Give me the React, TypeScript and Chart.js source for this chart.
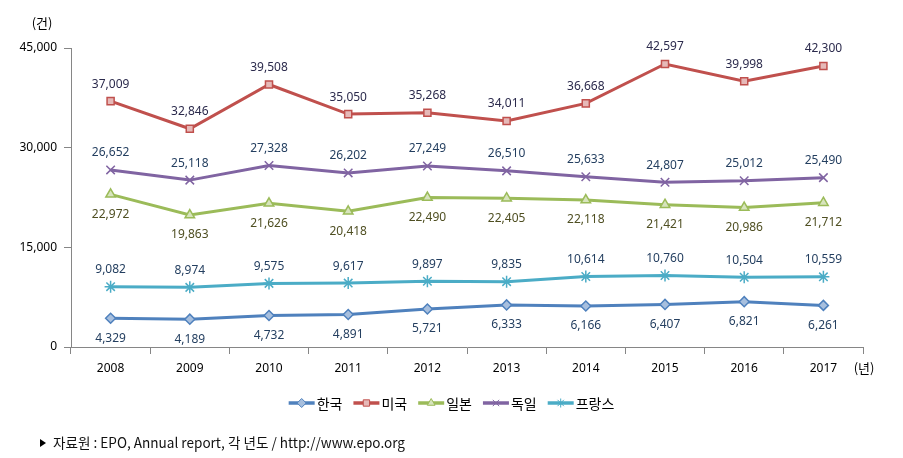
import React, { useEffect, useRef } from 'react';
import { Chart, registerables } from 'chart.js';
import { drawPoint } from 'chart.js/helpers';

Chart.register(...registerables);

const years = ['2008', '2009', '2010', '2011', '2012', '2013', '2014', '2015', '2016', '2017'];
const korea = [4329, 4189, 4732, 4891, 5721, 6333, 6166, 6407, 6821, 6261];
const usa = [37009, 32846, 39508, 35050, 35268, 34011, 36668, 42597, 39998, 42300];
const japan = [22972, 19863, 21626, 20418, 22490, 22405, 22118, 21421, 20986, 21712];
const germany = [26652, 25118, 27328, 26202, 27249, 26510, 25633, 24807, 25012, 25490];
const france = [9082, 8974, 9575, 9617, 9897, 9835, 10614, 10760, 10504, 10559];
const seriesNames = ['한국', '미국', '일본', '독일', '프랑스'];
const yTickValues = [0, 15000, 30000, 45000];
const yUnit = '(건)';
const xUnit = '(년)';
const sourceText = '자료원 : EPO, Annual report, 각 년도 / http://www.epo.org';

const LABEL_FONT = '12px "Noto Sans", "Noto Sans CJK KR", sans-serif';
const KR_FONT = '"Noto Sans CJK KR", "Noto Sans", sans-serif';

const fmt = (v: number) => v.toLocaleString('en-US');

type Style = {
  color: string;
  fill: string;
  pointStyle: string;
  radius: number;
  labelPos: 'above' | 'below';
  labelColor: string;
};

const styles: Style[] = [
  { color: '#4F81BD', fill: '#A7BFDE', pointStyle: 'rectRot', radius: 5, labelPos: 'below', labelColor: '#243F60' },
  { color: '#C0504D', fill: '#E6B9B8', pointStyle: 'rect', radius: 5, labelPos: 'above', labelColor: '#2B2A4C' },
  { color: '#9BBB59', fill: '#D7E4BD', pointStyle: 'triangle', radius: 5.5, labelPos: 'below', labelColor: '#4F4F22' },
  { color: '#8064A2', fill: '#8064A2', pointStyle: 'crossRot', radius: 6, labelPos: 'above', labelColor: '#243F60' },
  { color: '#4BACC6', fill: '#4BACC6', pointStyle: 'star', radius: 6, labelPos: 'above', labelColor: '#243F60' },
];

const seriesData = [korea, usa, japan, germany, france];

const extrasPlugin = {
  id: 'extras',
  afterDatasetsDraw(chart: any) {
    const ctx = chart.ctx as CanvasRenderingContext2D;
    ctx.save();
    // data labels
    ctx.font = LABEL_FONT;
    ctx.textAlign = 'center';
    ctx.textBaseline = 'middle';
    chart.data.datasets.forEach((ds: any, i: number) => {
      const meta = chart.getDatasetMeta(i);
      const st = styles[i];
      ctx.fillStyle = st.labelColor;
      meta.data.forEach((pt: any, j: number) => {
        const v = ds.data[j] as number;
        const dy = st.labelPos === 'above' ? -17 : 20;
        ctx.fillText(fmt(v), pt.x, pt.y + dy);
      });
    });

    // unit labels
    ctx.fillStyle = '#000';
    ctx.font = `13px ${KR_FONT}`;
    ctx.textAlign = 'center';
    ctx.fillText(yUnit, 42, 23);
    ctx.fillText(xUnit, 864, 368);

    // legend
    ctx.font = `14px ${KR_FONT}`;
    const lineLen = 26;
    const gapText = 2;
    const gapItem = 11;
    const widths = seriesNames.map((n) => lineLen + gapText + ctx.measureText(n).width);
    const total = widths.reduce((a, b) => a + b, 0) + gapItem * (seriesNames.length - 1);
    let x = chart.width / 2 - total / 2;
    const ly = 403;
    seriesNames.forEach((name, i) => {
      const st = styles[i];
      ctx.strokeStyle = st.color;
      ctx.lineWidth = 3.5;
      ctx.beginPath();
      ctx.moveTo(x, ly);
      ctx.lineTo(x + lineLen, ly);
      ctx.stroke();
      ctx.fillStyle = st.fill;
      ctx.strokeStyle = st.color;
      ctx.lineWidth = 1;
      drawPoint(ctx, { pointStyle: st.pointStyle as any, radius: 4.5, rotation: 0, borderWidth: 1 } as any, x + lineLen / 2, ly);
      ctx.fillStyle = '#000';
      ctx.textAlign = 'left';
      ctx.textBaseline = 'middle';
      ctx.fillText(name, x + lineLen + gapText, ly + 1);
      x += widths[i] + gapItem;
    });

    // source footer
    ctx.fillStyle = '#000';
    ctx.beginPath();
    ctx.moveTo(40, 439);
    ctx.lineTo(46, 443);
    ctx.lineTo(40, 447);
    ctx.closePath();
    ctx.fill();
    ctx.font = `14px ${KR_FONT}`;
    ctx.textAlign = 'left';
    ctx.fillStyle = '#111';
    ctx.fillText(sourceText, 53, 443, 352);
    ctx.restore();
  },
};

export default function App() {
  const ref = useRef<HTMLCanvasElement | null>(null);

  useEffect(() => {
    if (!ref.current) return;
    const chart = new Chart(ref.current, {
      type: 'line',
      data: {
        labels: years,
        datasets: seriesData.map((d, i) => ({
          label: seriesNames[i],
          data: d,
          borderColor: styles[i].color,
          backgroundColor: styles[i].fill,
          pointBackgroundColor: styles[i].fill,
          pointBorderColor: styles[i].color,
          pointStyle: styles[i].pointStyle as any,
          pointRadius: styles[i].radius,
          pointBorderWidth: styles[i].pointStyle === 'crossRot' || styles[i].pointStyle === 'star' ? 1.5 : 1.5,
          borderWidth: 3,
          tension: 0,
          fill: false,
        })),
      },
      options: {
        responsive: false,
        animation: false,
        layout: { padding: { left: 0, top: 48, right: 40, bottom: 0 } },
        plugins: {
          legend: { display: false },
          tooltip: { enabled: false },
        },
        scales: {
          x: {
            offset: true,
            border: { display: true, color: '#868686', width: 1 },
            grid: { offset: true, drawOnChartArea: false, drawTicks: true, tickLength: 7, color: '#868686' },
            ticks: { color: '#000', font: { size: 12, family: '"Noto Sans", sans-serif' }, padding: 7, maxRotation: 0 },
            afterFit: (scale: any) => {
              scale.height = 111;
            },
          },
          y: {
            min: 0,
            max: 45000,
            border: { display: true, color: '#868686', width: 1 },
            grid: { drawOnChartArea: false, drawTicks: true, tickLength: 7, color: '#868686' },
            afterBuildTicks: (scale: any) => {
              scale.ticks = yTickValues.map((v) => ({ value: v }));
            },
            ticks: {
              color: '#000',
              font: { size: 12, family: '"Noto Sans", sans-serif' },
              padding: 7,
              callback: (v: any) => fmt(Number(v)),
            },
            afterFit: (scale: any) => {
              scale.width = 71;
            },
          },
        },
      },
      plugins: [extrasPlugin],
    });
    return () => chart.destroy();
  }, []);

  return (
    <div style={{ position: 'absolute', left: 0, top: 0, width: 903, height: 458, background: '#fff' }}>
      <canvas ref={ref} width={903} height={458} />
    </div>
  );
}
